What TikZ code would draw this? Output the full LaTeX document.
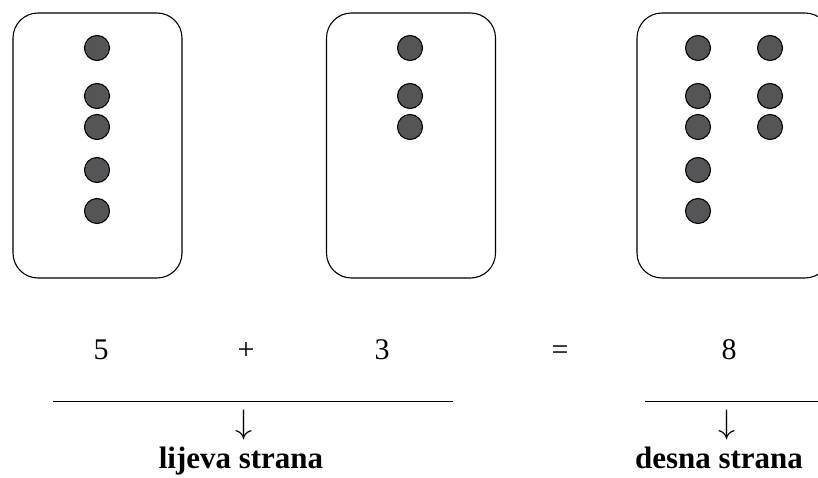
\documentclass[tikz,border=0pt]{standalone}
\usepackage{fontspec}
\setmainfont{Liberation Serif}
\usetikzlibrary{positioning}

\definecolor{dotgray}{RGB}{85,85,87}

\tikzset{
	card/.style={draw,rounded corners=25pt,line width=1.1pt,minimum height=265pt,inner sep=0pt},
	dot/.style={draw,circle,fill=dotgray,line width=1.1pt,minimum size=25pt,inner sep=0pt},
	num/.style={anchor=base,font=\fontsize{30}{32}\selectfont},
	down/.style={anchor=base,scale=3.4,inner sep=0pt},
	side/.style={anchor=base,font=\fontsize{31}{33}\selectfont\bfseries}
}

\begin{document}
\begin{tikzpicture}[x=1pt,y=-1pt]
		\useasboundingbox (0,0) rectangle (818,478);

		% three cards
		\node[card,minimum width=169pt] (cardA) at (97.5,145.5) {};
		\node[card,minimum width=169pt] (cardB) at (411,145.5) {};
		\node[card,minimum width=193pt] (cardC) at (733.5,145.5) {};

		% counters
		\foreach \y [count=\i] in {48,96,127,170,211} {
			\node[dot] (a\i) at (97,\y) {};
			\node[dot] (c\i) at (698,\y) {};
		}
		\foreach \y [count=\i] in {48,96,127} {
			\node[dot] (b\i) at (410,\y) {};
			\node[dot] (d\i) at (770,\y) {};
		}

		% the equation
		\node[num] (five) at (101,359) {5};
		\node[num] (plus) at (246,359) {+};
		\node[num] (three) at (382,359) {3};
		\node[num] (equals) at (560,359) {=};
		\node[num] (eight) at (729,359) {8};

		\coordinate (lhsL) at (53,401);
		\coordinate (lhsR) at (453,401);
		\coordinate (rhsL) at (645,401);
		\coordinate (rhsR) at (818,401);
		\draw[line width=0.9pt] (lhsL) -- (lhsR);
		\draw[line width=0.9pt] (rhsL) -- (rhsR);

		\node[down] (lhsArrow) at (244,433.5) {$\downarrow$};
		\node[down] (rhsArrow) at (727,433.5) {$\downarrow$};
		\node[side] (lhs) at (241,468) {lijeva strana};
		\node[side] (rhs) at (719,468) {desna strana};
	\end{tikzpicture}
\end{document}
